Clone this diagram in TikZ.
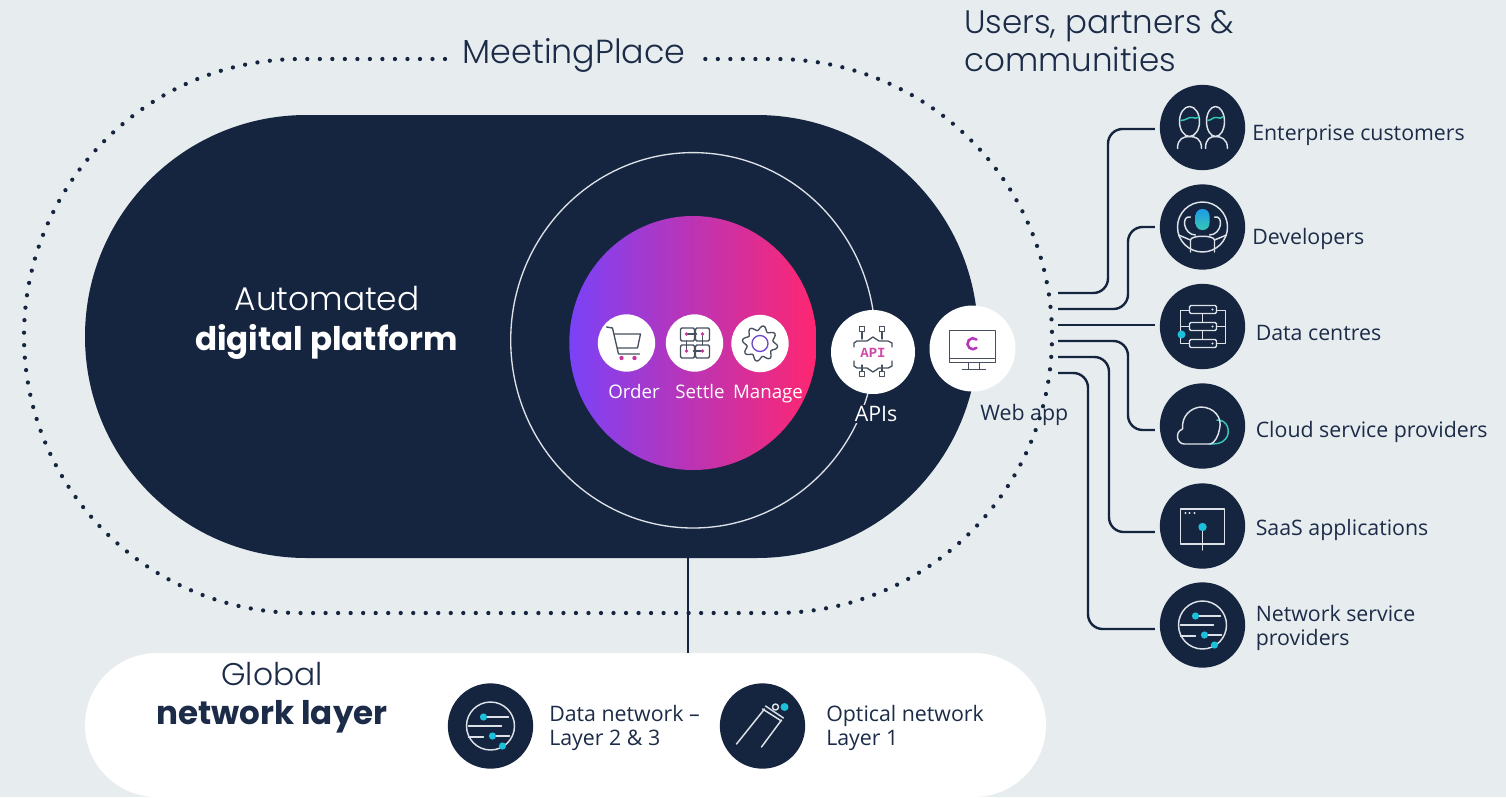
\documentclass[tikz,border=0pt]{standalone}
\usepackage{fontspec}
\setmainfont{Open Sans}
\newfontfamily\headfont{Poppins Light}
\newfontfamily\headbold{Poppins Bold}
\newfontfamily\apifont{Liberation Mono Bold}
\usetikzlibrary{calc}
\definecolor{navy}{HTML}{16253F}
\definecolor{bgc}{HTML}{E7ECEF}
\definecolor{ink}{HTML}{1C2C48}
\definecolor{vio}{HTML}{7A42F8}
\definecolor{roseend}{HTML}{FF2670}
\definecolor{teal}{HTML}{1CC0DA}
\definecolor{micblue}{HTML}{1E9BE8}
\definecolor{mint}{HTML}{35C6B4}
\definecolor{iconline}{HTML}{DDE2E8}
\definecolor{pinkdot}{HTML}{C8359E}
\definecolor{graph}{HTML}{46505F}
\tikzset{
  x=0.75pt,y=-0.75pt,
  disc/.style={circle,fill=navy,minimum size=64pt,inner sep=0pt},
  wdisc/.style={circle,fill=white,inner sep=0pt},
  lab/.style={anchor=west,font=\fontsize{16pt}{18pt}\selectfont,text=ink,align=left,inner sep=0pt},
  wlab/.style={anchor=base,font=\fontsize{14pt}{18pt}\selectfont,text=white,inner sep=0pt},
  head/.style={font=\headfont\fontsize{24.4pt}{29pt}\selectfont,text=ink,inner sep=0pt},
  boldhead/.style={anchor=center,font=\headbold\fontsize{24.4pt}{29pt}\selectfont,inner sep=0pt},
  conn/.style={draw=navy,line width=1.8pt,rounded corners=11pt,shorten >=3.5pt},
  ic/.style={draw=iconline,line width=1.1pt,line cap=round,line join=round},
  gi/.style={draw=graph,line width=1pt,line cap=round,line join=round},
  tdot/.style={fill=teal,draw=none},
  pdot/.style={fill=pinkdot,draw=none}
}
\begin{document}
\begin{tikzpicture}
\useasboundingbox (0,0) rectangle (1506,797);
\fill[bgc] (0,0) rectangle (1506,797);
% dotted ring
\draw[navy,line width=3.2pt,line cap=round,dash pattern=on 0pt off 9.388pt]
  (445,59) -- (301,59) arc[start angle=270,end angle=90,radius=277] -- (775,613)
  arc[start angle=90,end angle=-90,radius=277] -- (705,59);
% pills
\node[fill=navy,rectangle,rounded corners=166pt,minimum width=669.75pt,minimum height=332.25pt,inner sep=0pt] (pill) at (531.5,336.5) {};
\node[fill=white,rectangle,rounded corners=54pt,minimum width=720.75pt,minimum height=108pt,inner sep=0pt] (net) at (565.5,725) {};
\coordinate (drop) at (688,600);
\draw[navy,line width=1.8pt] (drop |- pill.south) -- (drop |- net.north);
% inner ring and core
\draw[iconline,line width=1pt] (693,340.3) ellipse[x radius=182.3,y radius=187.7];
\shade[left color=vio,right color=roseend,middle color=vio!50!roseend] (693,343) ellipse[x radius=123.7,y radius=127];
% text heads
\node[head,anchor=center,font=\headfont\fontsize{25pt}{29pt}\selectfont] (mp) at (574,55) {MeetingPlace};
\node[head,anchor=west,align=left] (users) at (964,41) {Users, partners \&\\communities};
\node[head,text=white,anchor=center,font=\headfont\fontsize{24.6pt}{29pt}\selectfont] (auto) at (327,299) {Automated};
\node[boldhead,text=white] (dp) at (326.5,342) {digital platform};
\node[head,anchor=center,font=\headfont\fontsize{23.5pt}{29pt}\selectfont] (glob) at (272,674) {Global};
\node[boldhead,text=ink] (nl) at (272,717) {network layer};
% core icons
\node[wdisc,minimum size=43pt] (order) at (626.5,343) {};
\node[wdisc,minimum size=43pt] (settle) at (694.5,343) {};
\node[wdisc,minimum size=43pt] (manage) at (760,343.5) {};
\node[wlab] (lo) at (634,398) {Order};
\node[wlab] (ls) at (700,398) {Settle};
\node[wlab] (lm) at (768,398) {Manage};
\begin{scope}[shift={(order.center)}]
  \draw[gi] (-20,-16) -- (-14,-15) -- (-8,11) -- (13,11);
  \draw[gi] (-12,-9) -- (14,-9) -- (11,5) -- (-9,5);
  \fill[pdot] (-5,15) circle[radius=2.2] (8,15) circle[radius=2.2];
\end{scope}
\begin{scope}[shift={(settle.center)}]
  \foreach \a/\b in {-14/-15,1/-15,-14/2,1/2}{\draw[gi,rounded corners=1pt] (\a,\b) rectangle ++(14,13);}
  \draw[gi] (-8,-9) -- (2,-9) (8,-9) -- (8,2) (8,8) -- (-1,8) (-8,8) -- (-8,-2);
  \fill[pdot] (-8,-9) circle[radius=1.8] (8,-9) circle[radius=1.8] (-8,8) circle[radius=1.8] (8,8) circle[radius=1.8];
\end{scope}
\begin{scope}[shift={(manage.center)}]
  \draw[gi] plot[samples=65,domain=0:360,smooth] (\x:{15.5+2.4*sin(8*\x)});
  \draw[draw=vio!70!graph,line width=1pt] (0,0) circle[radius=8];
\end{scope}
% APIs / Web app
\node[anchor=center,fill=navy,inner sep=1pt,font=\fontsize{16pt}{18pt}\selectfont,text=white] (lapi) at (876,414) {APIs};
\node[wdisc,minimum size=63pt] (api) at (873,352) {};
\node[wdisc,minimum size=64.5pt] (web) at (972.5,348.5) {};
\node[lab] (lweb) at (980,415) {Web app};
\begin{scope}[shift={(api.center)}]
  \foreach \a/\b in {-11/-23,9/-23,-11/22,9/22}{\draw[gi] (\a-2.7,\b-2.7) rectangle ++(5.4,5.4);}
  \draw[gi] (-11,-20) -- (-11,-13) (9,-20) -- (9,-13) (-11,19) -- (-11,13) (9,19) -- (9,13);
  \draw[gi] (-19,-5) -- (-19,-9) -- (-16,-11) -- (-6,-11) -- (0,-15) -- (6,-11) -- (15,-11) -- (19,-9) -- (19,-5);
  \draw[gi] (-19,9) -- (-19,14) -- (-16,16) -- (-6,16) -- (0,20) -- (6,16) -- (15,16) -- (19,14) -- (19,9);
  \node[inner sep=0pt,font=\apifont\fontsize{10.5pt}{10pt}\selectfont,text=pinkdot!90!white] (apit) at (0,1) {API};
\end{scope}
\begin{scope}[shift={(web.center)}]
  \draw[gi,line width=1.2pt] (-23,-18) rectangle (23,14);
  \draw[gi] (-23,10) -- (23,10);
  \draw[gi] (-4,14) -- (-4,21) (7,14) -- (7,21) (-10,21) -- (13,21);
  \draw[vio!55!roseend,line width=1.9pt,line cap=round] (4,-9) arc[start angle=-50,end angle=-310,radius=5.5];
\end{scope}
% right discs
\node[disc] (n1) at (1202.5,127.5) {};
\node[disc] (n2) at (1202.5,227) {};
\node[disc] (n3) at (1202.5,326.5) {};
\node[disc] (n4) at (1202.5,426) {};
\node[disc] (n5) at (1202.5,526) {};
\node[disc] (n6) at (1202.5,625) {};
\node[lab] (l1) at (1252,135.5) {Enterprise customers};
\node[lab] (l2) at (1252,238.5) {Developers};
\node[lab] (l3) at (1255.5,333) {Data centres};
\node[lab] (l4) at (1255.5,432) {Cloud service providers};
\node[lab] (l5) at (1255.5,530) {SaaS applications};
\node[lab] (l6) at (1255.5,628) {Network service\\providers};
% connectors
\coordinate (s1) at (1058,293);
\coordinate (s2) at (1058,309);
\coordinate (s3) at (1058,325);
\coordinate (s4) at (1058,341);
\coordinate (s5) at (1058,357);
\coordinate (s6) at (1058,373);
\draw[conn] (s1) -- ++(50,0) |- ([yshift=-1.1pt]n1.west);
\draw[conn] (s2) -- ++(70,0) |- (n2.west);
\draw[conn] (s3) -- (s3 -| n3.west);
\draw[conn] (s4) -- ++(70,0) |- ([yshift=-3pt]n4.west);
\draw[conn] (s5) -- ++(51,0) |- ([yshift=-4.5pt]n5.west);
\draw[conn] (s6) -- ++(30,0) |- ([yshift=-3pt]n6.west);
% right icons
\begin{scope}[shift={(n1.center)}]
  \draw[ic] (-13,-6) ellipse[x radius=10,y radius=15];
  \draw[ic] (13,-6) ellipse[x radius=9,y radius=15];
  \draw[ic] (-25,21) .. controls (-25,11) and (-19,9) .. (-13,9) .. controls (-7,9) and (-1,11) .. (-1,21);
  \draw[ic] (3,21) .. controls (3,11) and (8,9) .. (13,9) .. controls (18,9) and (25,11) .. (25,21);
  \draw[mint,line width=1.1pt] (-22,-7) .. controls (-16,-7) and (-14,-11) .. (-10,-10) .. controls (-8,-9) and (-6,-9) .. (-3,-11);
  \draw[mint,line width=1.1pt] (5,-7) .. controls (9,-7) and (11,-11) .. (14,-10) .. controls (17,-9) and (19,-9) .. (21,-11);
\end{scope}
\begin{scope}[shift={(n2.center)}]
  \draw[ic] (0,0) circle[radius=25];
  \draw[ic] (-7,8) .. controls (-19,8) and (-22,-12) .. (-12,-10);
  \draw[ic] (7,8) .. controls (19,8) and (22,-12) .. (12,-10);
  \draw[ic] (-12,25) -- (-12,13) .. controls (-12,8) and (12,8) .. (12,13) -- (12,25);
  \draw[ic] (-24,8) -- (-12,13) (24,8) -- (12,13);
  \shade[top color=micblue,bottom color=mint,rounded corners=5pt] (-7,-18) rectangle (7,3);
\end{scope}
\begin{scope}[shift={(n3.center)}]
  \draw[ic] (-22,-16) rectangle (23,17);
  \foreach \b in {-21,-4,13}{\draw[ic,fill=navy,rounded corners=1pt] (-13,\b) rectangle (14,\b+8);
    \fill[iconline] (10,\b+4) circle[radius=1.1];}
  \draw[ic] (0,-13) -- (0,-4) (0,4) -- (0,13);
  \draw[ic] (-22,0) -- (-13,0) (14,0) -- (23,0);
  \fill[tdot] (-21,8) circle[radius=4];
\end{scope}
\begin{scope}[shift={(n4.center)}]
  \draw[mint,line width=1.1pt] (14,-6) .. controls (25,-7) and (29,6) .. (23,13) .. controls (19,18) and (13,18) .. (6,18);
  \draw[ic] (8,18) -- (-18,18) .. controls (-26,18) and (-28,6) .. (-20,3) .. controls (-21,-10) and (-12,-18) .. (-2,-19) .. controls (12,-19) and (20,-8) .. (17,3) .. controls (16,10) and (12,17) .. (8,18);
\end{scope}
\begin{scope}[shift={(n5.center)}]
  \draw[ic] (-22,-17) rectangle (22,18);
  \fill[iconline] (-17,-13) circle[radius=1.1] (-13,-13) circle[radius=1.1] (-8,-13) circle[radius=1.1];
  \draw[ic] (0,1) -- (0,24);
  \fill[tdot] (0,1) circle[radius=4.2];
\end{scope}
\begin{scope}[shift={(n6.center)}]
  \draw[ic] (0,0) circle[radius=24];
  \draw[ic] (-7,-9) -- (18,-9) (-22,0) -- (11,0) (-22,11) -- (-7,11) (2,10) -- (19,10);
  \fill[tdot] (-7,-9) circle[radius=3.6] (2,10) circle[radius=3.6] (12,20) circle[radius=3.6];
\end{scope}
% bottom discs
\node[disc] (d1) at (490.5,726) {};
\node[disc] (d2) at (762.5,726) {};
\node[lab] (ld1) at (549,728) {Data network –\\Layer 2 \& 3};
\node[lab] (ld2) at (826,728) {Optical network\\Layer 1};
\begin{scope}[shift={(d1.center)}]
  \draw[ic] (0,0) circle[radius=24];
  \draw[ic] (-7,-9) -- (18,-9) (-22,0) -- (11,0) (-22,11) -- (-7,11) (2,10) -- (19,10);
  \fill[tdot] (-7,-9) circle[radius=3.6] (2,10) circle[radius=3.6] (12,20) circle[radius=3.6];
\end{scope}
\begin{scope}[shift={(d2.center)}]
  \draw[ic] (-26,18) -- (2,-17) (-1,21) -- (19,-6) (0,-17) -- (19,-5) (3,-20) -- (21,-8);
  \draw[ic] (13,-19) circle[radius=3];
  \fill[tdot] (22,-19) circle[radius=4];
\end{scope}
\end{tikzpicture}
\end{document}
